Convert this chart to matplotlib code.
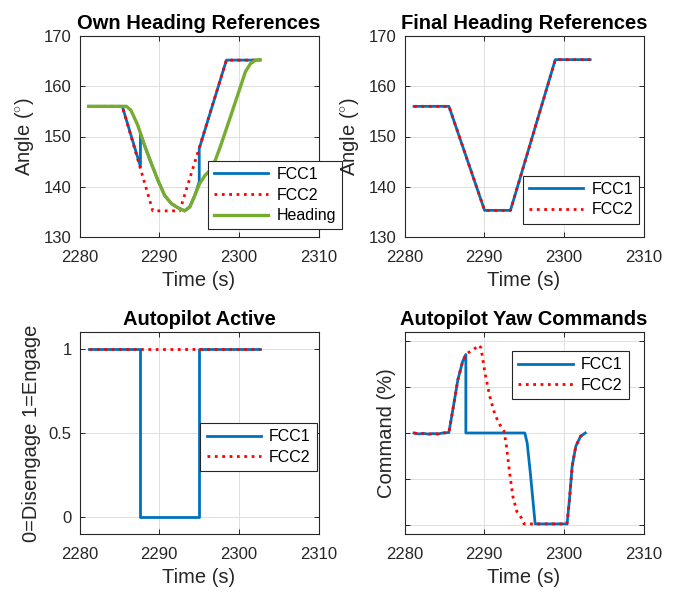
import matplotlib
matplotlib.use("Agg")
import matplotlib.pyplot as plt

plt.rcParams["font.family"] = ["Liberation Sans", "DejaVu Sans"]
plt.rcParams["mathtext.fontset"] = "custom"
plt.rcParams["mathtext.rm"] = "Liberation Sans"

# ---- Own heading references (top left) ----
own_fcc1_t = [2281.14, 2285.37, 2287.65, 2287.65, 2288.15, 2289.0, 2289.84, 2290.68,
              2291.5, 2292.37, 2293.2, 2293.85, 2294.48, 2295.03, 2295.03, 2298.44, 2302.66]
own_fcc1_v = [156.0, 156.0, 144.0, 150.6, 148.3, 144.7, 141.3, 138.3,
              136.7, 135.8, 135.2, 136.0, 138.3, 141.0, 147.6, 165.2, 165.2]
own_fcc2_t = [2281.14, 2285.37, 2289.2, 2292.58, 2298.44, 2302.66]
own_fcc2_v = [156.0, 156.0, 135.2, 135.2, 165.2, 165.2]
heading_t = [2281.14, 2285.9, 2286.46, 2287.3, 2288.15, 2289.0, 2289.84, 2290.68, 2291.5,
             2292.37, 2293.2, 2293.85, 2294.48, 2295.1, 2295.78, 2296.4, 2297.05, 2297.68,
             2298.3, 2298.94, 2299.57, 2300.2, 2300.83, 2301.46, 2302.1, 2302.66]
heading_v = [156.0, 156.0, 155.2, 152.3, 148.3, 144.7, 141.3, 138.3, 136.7,
             135.8, 135.2, 136.0, 138.3, 140.7, 142.3, 143.3, 145.3, 148.0,
             150.9, 153.9, 156.9, 159.9, 162.9, 164.5, 165.2, 165.3]

# ---- Final heading references (top right) ----
final_t = [2281.2, 2285.58, 2290.05, 2293.3, 2298.93, 2303.3]
final_fcc1_v = [156.0, 156.0, 135.3, 135.3, 165.3, 165.3]
final_fcc2_v = [156.0, 156.0, 135.3, 135.3, 165.3, 165.3]

# ---- Autopilot engage state (bottom left) ----
ap_fcc1_t = [2281.14, 2287.6, 2287.6, 2294.95, 2294.95, 2302.7]
ap_fcc1_v = [1, 1, 0, 0, 1, 1]
ap_fcc2_t = [2281.14, 2302.7]
ap_fcc2_v = [1, 1]

# ---- Autopilot yaw commands (bottom right) ----
yaw_fcc1_t = [2281.2, 2281.8, 2282.4, 2283.0, 2283.6, 2284.2, 2284.8, 2285.57, 2286.07,
              2286.7, 2287.3, 2287.7, 2287.7, 2295.1, 2295.4, 2295.8, 2296.4, 2300.4,
              2300.7, 2301.05, 2301.5, 2302.1, 2302.7]
yaw_fcc1_v = [0, -1, -0.5, -1.2, -0.6, -1, 0, 0.5, 25.5,
              58, 78, 85.5, 0, 0, -11, -44, -99, -99,
              -73, -36, -14.5, -3.6, 0]
yaw_fcc2_t = [2281.2, 2281.8, 2282.4, 2283.0, 2283.6, 2284.2, 2284.8, 2285.57, 2286.07,
              2286.7, 2287.3, 2287.7, 2288.1, 2288.7, 2289.3, 2289.6, 2290.1, 2290.7,
              2291.35, 2291.96, 2292.5, 2292.8, 2293.2, 2293.6, 2294.1, 2294.7, 2295.0,
              2300.4, 2300.7, 2301.05, 2301.5, 2302.1, 2302.7]
yaw_fcc2_v = [0, -1, -0.5, -1.2, -0.6, -1, 0, 0.5, 25.5,
              58, 78, 85.5, 88, 91, 95.7, 92.8, 65.5, 40,
              20, 9.1, 1.8, -14.6, -43.7, -69, -85.5, -92.8, -99,
              -99, -73, -36, -14.5, -3.6, 0]

time_ticks = [2280, 2290, 2300, 2310]

BLUE = "#0072BD"
RED = "#FF0000"
GREEN = "#77AC30"
INK = "#262626"

fig = plt.figure(figsize=(6.8, 5.92), dpi=100)

W = 239 / 680
H_TOP = 201 / 592
H_BOT = 202 / 592
ax_tl = fig.add_axes([79.5 / 680, 1 - 237 / 592, W, H_TOP])
ax_tr = fig.add_axes([404.5 / 680, 1 - 237 / 592, W, H_TOP])
ax_bl = fig.add_axes([79.5 / 680, 1 - 534 / 592, W, H_BOT])
ax_br = fig.add_axes([404.5 / 680, 1 - 534 / 592, W, H_BOT])


def style(ax, title, ylabel):
    ax.set_xlim(2280, 2310)
    ax.set_xticks(time_ticks)
    ax.set_title(title, fontsize=14.5, fontweight="bold", color="black", pad=5)
    ax.set_xlabel("Time (s)", fontsize=14.5, color=INK, labelpad=4)
    ax.set_ylabel(ylabel, fontsize=14.5, color=INK, labelpad=6)
    ax.grid(True, color="#dfdfdf", linewidth=0.7)
    ax.set_axisbelow(True)
    ax.tick_params(direction="in", top=True, right=True, length=3.5, width=0.7,
                   colors=INK, labelsize=12)
    ax.tick_params(axis="x", pad=9.5)
    ax.tick_params(axis="y", pad=5.5)
    for s in ax.spines.values():
        s.set_color(INK)
        s.set_linewidth(0.8)


def add_legend(ax, cx, cy):
    leg = ax.legend(loc="center", bbox_to_anchor=(cx, cy), bbox_transform=fig.transFigure,
                    fontsize=11.5, handlelength=3.4, handletextpad=0.5, labelspacing=0.35,
                    borderpad=0.4, fancybox=False, framealpha=1, edgecolor=INK)
    leg.get_frame().set_linewidth(0.8)


# Own heading references
ax_tl.plot(own_fcc1_t, own_fcc1_v, color=BLUE, lw=2.0, label="FCC1")
ax_tl.plot(own_fcc2_t, own_fcc2_v, color=RED, lw=2.0, ls=":", label="FCC2")
ax_tl.plot(heading_t, heading_v, color=GREEN, lw=2.4, label="Heading")
ax_tl.set_ylim(130, 170)
ax_tl.set_yticks([130, 140, 150, 160, 170])
style(ax_tl, "Own Heading References", r"Angle ($^{\circ}$)")
add_legend(ax_tl, 275 / 680, 1 - 195 / 592)

# Final heading references
ax_tr.plot(final_t, final_fcc1_v, color=BLUE, lw=2.0, label="FCC1")
ax_tr.plot(final_t, final_fcc2_v, color=RED, lw=2.0, ls=":", label="FCC2")
ax_tr.set_ylim(130, 170)
ax_tr.set_yticks([130, 140, 150, 160, 170])
style(ax_tr, "Final Heading References", r"Angle ($^{\circ}$)")
add_legend(ax_tr, 581 / 680, 1 - 199.7 / 592)

# Autopilot active flags
ax_bl.plot(ap_fcc1_t, ap_fcc1_v, color=BLUE, lw=2.0, label="FCC1")
ax_bl.plot(ap_fcc2_t, ap_fcc2_v, color=RED, lw=2.0, ls=":", label="FCC2")
ax_bl.set_ylim(-0.1, 1.1)
ax_bl.set_yticks([0, 0.5, 1])
ax_bl.set_yticklabels(["0", "0.5", "1"])
style(ax_bl, "Autopilot Active", "0=Disengage 1=Engage")
add_legend(ax_bl, 258.7 / 680, 1 - 447 / 592)

# Autopilot yaw commands
ax_br.plot(yaw_fcc1_t, yaw_fcc1_v, color=BLUE, lw=2.0, label="FCC1")
ax_br.plot(yaw_fcc2_t, yaw_fcc2_v, color=RED, lw=2.0, ls=":", label="FCC2")
ax_br.set_ylim(-110, 110)
ax_br.set_yticks([-100, -50, 0, 50, 100])
style(ax_br, "Autopilot Yaw Commands", "Command (%)")
ax_br.tick_params(axis="y", labelleft=False)
add_legend(ax_br, 570.3 / 680, 1 - 375 / 592)

fig.savefig("out.png", dpi=100)
